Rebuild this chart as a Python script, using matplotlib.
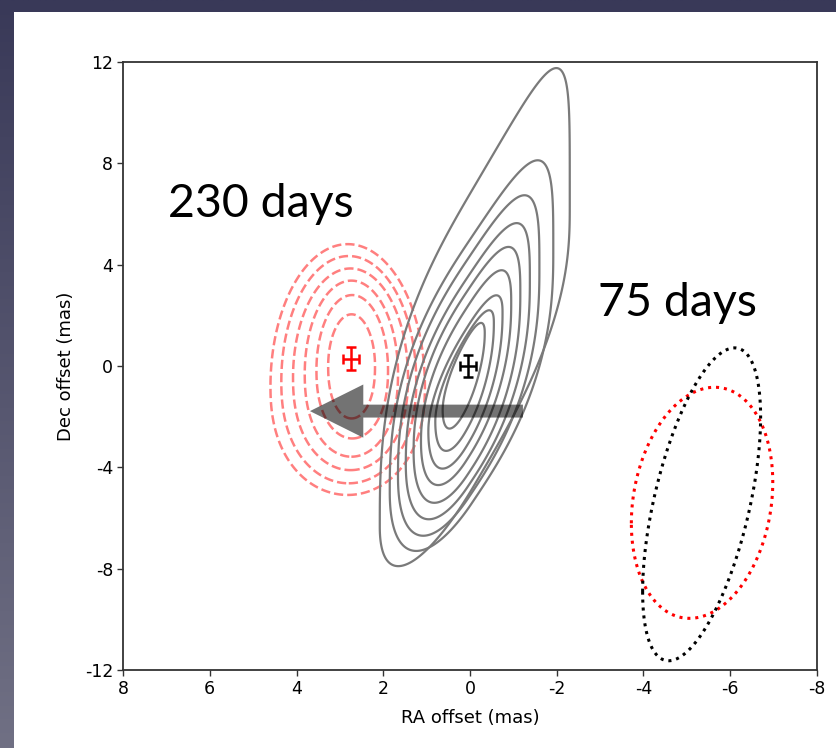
import numpy as np
import matplotlib
matplotlib.use("Agg")
import matplotlib.pyplot as plt
from matplotlib.patches import Rectangle, FancyArrow, Polygon

plt.rcParams['axes.unicode_minus'] = False
plt.rcParams['font.family'] = ['DejaVu Sans']

# ---------------- data (RA, Dec offsets in mas) ----------------
ra_ticks = [8, 6, 4, 2, 0, -2, -4, -6, -8]
dec_ticks = [12, 8, 4, 0, -4, -8, -12]

# positions with error bars
pos230_ra, pos230_dec = 2.74, 0.29
pos0_ra, pos0_dec = 0.05, 0.0
err_ra, err_dec = 0.18, 0.45

# gray (solid) contours, outer -> inner: extreme points
gray_left_ra = [2.08, 1.85, 1.66, 1.48, 1.30, 1.13, 0.96, 0.80, 0.63]
gray_left_dec = [-6.36, -5.00, -4.40, -3.90, -3.40, -3.00, -2.60, -2.20, -1.74]
gray_right_ra = [-2.30, -1.92, -1.60, -1.38, -1.16, -0.95, -0.75, -0.55, -0.34]
gray_right_dec = [6.40, 4.60, 3.90, 3.40, 2.90, 2.50, 2.10, 1.70, 1.30]
gray_top_dec = [11.76, 8.12, 6.74, 5.64, 4.70, 3.78, 2.79, 2.20, 1.70]
gray_bot_dec = [-7.90, -7.30, -6.70, -6.05, -5.40, -4.70, -4.05, -3.35, -2.47]
# corner roundness of each contour (upper-left, top, lower-right, bottom)
gray_beta_q1 = [3.0, 2.8, 2.7, 2.6, 2.5, 2.4, 2.3, 2.2, 2.1]
gray_beta_q2 = [5.0, 3.6, 3.2, 3.0, 2.8, 2.6, 2.4, 2.3, 2.2]
gray_beta_q3 = [3.0, 2.8, 2.7, 2.6, 2.5, 2.4, 2.3, 2.2, 2.1]
gray_beta_q4 = [2.0, 2.0, 2.0, 2.0, 2.0, 2.0, 2.0, 2.0, 2.0]

# red (dashed) contours, outer -> inner
red_top_dec = [4.81, 4.34, 3.85, 3.37, 2.80, 2.04]
red_bot_dec = [-5.09, -4.63, -4.11, -3.58, -2.86, -2.07]
red_mid_dec = [-0.80, -0.60, -0.45, -0.30, -0.15, 0.00]
red_left_ra = [4.60, 4.35, 4.08, 3.81, 3.54, 3.27]
red_right_ra = [1.04, 1.24, 1.43, 1.66, 1.89, 2.19]

# dotted error ellipses (75 days): centre and covariance terms
ell_cx = [-5.35, -5.34]          # red, black
ell_cy = [-5.40, -5.46]
ell_sxx = [1.63 ** 2, 1.36 ** 2]
ell_syy = [4.56 ** 2, 6.175 ** 2]
ell_sxy = [-1.32, -4.69]
ell_colors = ['red', 'black']

# arrow (motion), in data units
arrow_start_ra, arrow_end_ra, arrow_dec = -1.22, 3.69, -1.78


# ---------------- helpers ----------------
def egg_curve(cx, top_y, bot_y, mid_y, hw, n=500):
    a_up = top_y - mid_y
    a_dn = mid_y - bot_y
    phi = np.linspace(-np.pi / 2, np.pi / 2, n)
    s = np.sin(phi)
    y = mid_y + np.where(s >= 0, s * a_up, s * a_dn)
    w = hw * np.where(s >= 0, np.sqrt(np.clip(1 - s ** 2, 0, 1)),
                      np.clip(1 - np.abs(s) ** 2.3, 0, 1) ** 0.5)
    X = np.concatenate([cx - w, (cx + w)[::-1]])
    Y = np.concatenate([y, y[::-1]])
    return X, Y


def solve_b(extent, ca, beta):
    # extent = (b^q + ca^q)^(1/q), q = beta/(beta-1)
    q = beta / (beta - 1.0)
    val = extent ** q - ca ** q
    return max(val, 1e-6) ** (1.0 / q)


def contour_shape(xl, yl, xr, yr, ytop, ybot, betas, n=2400):
    x0 = 0.5 * (xl + xr)
    yc = 0.5 * (yl + yr)
    a = 0.5 * (xl - xr)
    c = (yr - yl) / (xl - xr)
    ca = c * a
    b_up = solve_b(ytop - yc, ca, betas[1])
    b_dn = solve_b(yc - ybot, ca, betas[3])
    th = np.linspace(0, 2 * np.pi, n, endpoint=False)
    quad = np.minimum((th // (np.pi / 2)).astype(int), 3)
    be = np.array(betas)[quad]
    cs, sn = np.cos(th), np.sin(th)
    xp = a * np.sign(cs) * np.abs(cs) ** (2.0 / be)
    bb = np.where(sn >= 0, b_up, b_dn)
    dp = bb * np.sign(sn) * np.abs(sn) ** (2.0 / be)
    return x0 + xp, yc + dp - c * xp


def outline(ax, X, Y, **kw):
    ax.add_patch(Polygon(np.column_stack([X, Y]), closed=True, fill=False, **kw))


# ---------------- figure ----------------
W, H = 836, 748
fig = plt.figure(figsize=(W / 100, H / 100), dpi=100)

# slide background gradient + white panel
bg = fig.add_axes([0, 0, 1, 1], zorder=-10)
t = np.linspace(0, 1, 256)[:, None]
top_c = np.array([57, 57, 88]) / 255
bot_c = np.array([112, 112, 132]) / 255
grad = top_c[None, None, :] * (1 - t[:, :, None]) + bot_c[None, None, :] * t[:, :, None]
grad = np.repeat(grad, 4, axis=1)
bg.imshow(grad, aspect='auto', extent=[0, 1, 0, 1])
bg.set_axis_off()
bg.add_patch(Rectangle((14 / W, 0), 1 - 14 / W, (H - 12) / H,
                       transform=bg.transAxes, facecolor='white', edgecolor='none'))

ax = fig.add_axes([123 / W, 1 - 670 / H, (817 - 123) / W, (670 - 62) / H])
ax.set_facecolor('white')
ax.set_xlim(8, -8)
ax.set_ylim(-12, 12)
ax.set_xticks(ra_ticks)
ax.set_yticks(dec_ticks)
ax.set_xticklabels([str(v) for v in ra_ticks])
ax.set_yticklabels([str(v) for v in dec_ticks])
ax.tick_params(direction='out', length=4, width=1, labelsize=12.5, color='#333333', pad=3)
for sp in ax.spines.values():
    sp.set_linewidth(1.3)
    sp.set_color('#333333')
ax.set_xlabel('RA offset (mas)', fontsize=13, labelpad=8)
ax.set_ylabel('Dec offset (mas)', fontsize=13, labelpad=7)

# red dashed contours (230 days)
for k in range(len(red_top_dec)):
    cx = 0.5 * (red_left_ra[k] + red_right_ra[k])
    hw = 0.5 * (red_left_ra[k] - red_right_ra[k])
    X, Y = egg_curve(cx, red_top_dec[k], red_bot_dec[k], red_mid_dec[k], hw)
    outline(ax, X, Y, edgecolor='red', alpha=0.5, lw=1.8, ls=(0, (3.7, 1.6)), zorder=2)

# gray contours
for k in range(len(gray_top_dec)):
    betas = [gray_beta_q1[k], gray_beta_q2[k], gray_beta_q3[k], gray_beta_q4[k]]
    X, Y = contour_shape(gray_left_ra[k], gray_left_dec[k], gray_right_ra[k],
                         gray_right_dec[k], gray_top_dec[k], gray_bot_dec[k], betas)
    outline(ax, X, Y, edgecolor='#7a7a7a', lw=1.6, zorder=3)

# dotted ellipses (75 days)
th = np.linspace(0, 2 * np.pi, 400, endpoint=False)
for cx, cy, sxx, syy, sxy, c in zip(ell_cx, ell_cy, ell_sxx, ell_syy, ell_sxy, ell_colors):
    a = np.sqrt(sxx)
    X = cx + a * np.cos(th)
    Y = cy + (sxy / a) * np.cos(th) + np.sqrt(syy - sxy ** 2 / sxx) * np.sin(th)
    outline(ax, X, Y, edgecolor=c, lw=2.2, ls=(0, (1, 1.6)), zorder=4)

# arrow
ax.add_patch(FancyArrow(arrow_start_ra, arrow_dec, arrow_end_ra - arrow_start_ra, 0,
                        width=0.51, head_width=2.1, head_length=1.23,
                        length_includes_head=True, color='black', alpha=0.55,
                        lw=0, zorder=5))

# positions
ax.errorbar([pos230_ra], [pos230_dec], xerr=[err_ra], yerr=[err_dec], color='red',
            lw=1.8, capsize=3.5, capthick=1.8, zorder=6)
ax.errorbar([pos0_ra], [pos0_dec], xerr=[err_ra], yerr=[err_dec], color='black',
            lw=1.8, capsize=3.5, capthick=1.8, zorder=6)

# slide annotations
fig.text(168 / W, 1 - 217 / H, '230 days', fontsize=33.5, family=['Lato', 'DejaVu Sans'],
         va='baseline', ha='left')
fig.text(598 / W, 1 - 316 / H, '75 days', fontsize=33.5, family=['Lato', 'DejaVu Sans'],
         va='baseline', ha='left')

fig.savefig('out.png', dpi=100)
